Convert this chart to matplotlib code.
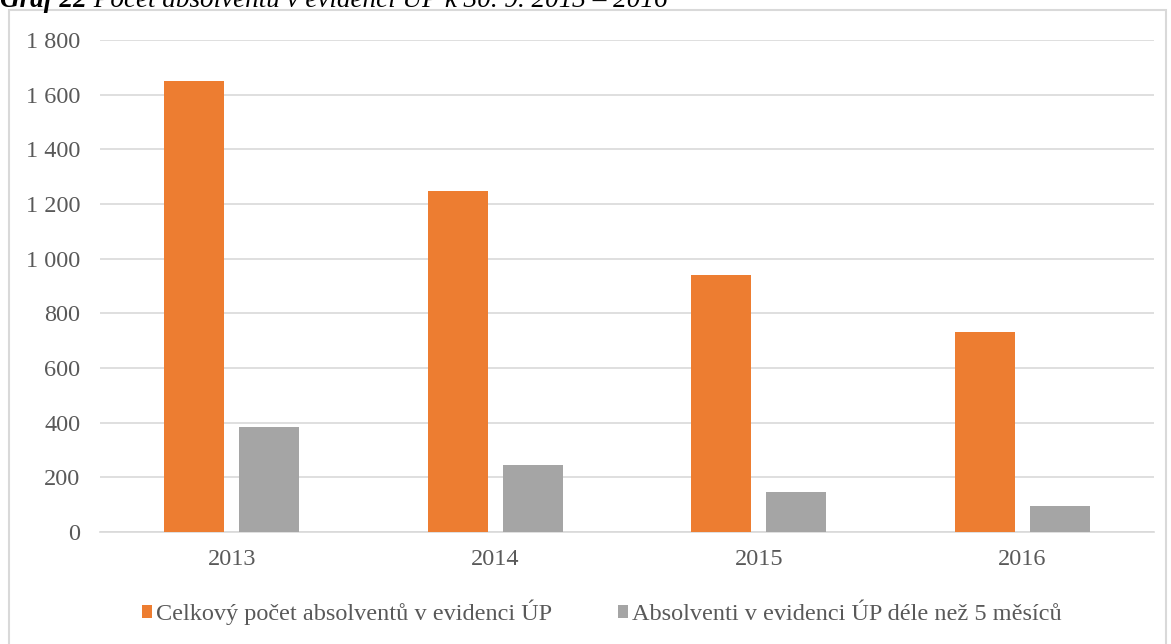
import numpy as np
import matplotlib.pyplot as plt
from matplotlib.patches import Rectangle

plt.rcParams['font.family'] = ['Liberation Serif', 'DejaVu Serif']

years = ['2013', '2014', '2015', '2016']
total = [1650, 1248, 940, 732]
over5 = [384, 245, 146, 95]
labels = ['Celkový počet absolventů v evidenci ÚP',
          'Absolventi v evidenci ÚP déle než 5 měsíců']
title_a = 'Graf 22'
title_b = ' Počet absolventů v evidenci ÚP k 30. 9. 2013 – 2016'

fs = 17.5
txt = '#595959'

fig = plt.figure(figsize=(11.71, 6.44), dpi=100)
fig.patches.append(Rectangle((9 / 1171, -10 / 644), 1157 / 1171, 644 / 644,
                             transform=fig.transFigure, fill=False,
                             edgecolor='#d9d9d9', lw=1.5))

# title, cut at the top edge as in the source
t1 = fig.text(0.0, (644 - 7) / 644, title_a, style='italic', weight='bold',
              fontsize=19.5, va='baseline', ha='left')
r = fig.canvas.get_renderer()
bb = t1.get_window_extent(r)
fig.text(bb.x1 / fig.bbox.width, (644 - 7) / 644, title_b, style='italic',
         fontsize=19.5, va='baseline', ha='left')

ax = fig.add_axes([100 / 1171, (644 - 532) / 644, 1054 / 1171, 492 / 644])
x = np.arange(len(years))
w = 0.228
ax.bar(x - 0.142, total, w, color='#ed7d31', label=labels[0], zorder=3)
ax.bar(x + 0.142, over5, w, color='#a5a5a5', label=labels[1], zorder=3)

ax.set_xlim(-0.5, 3.5)
ax.set_ylim(0, 1800)
ax.set_xticks(x)
ax.set_xticklabels(years)
yt = np.arange(0, 1801, 200)
ax.set_yticks(yt)
ax.set_yticklabels([f'{v:,}'.replace(',', ' ') for v in yt])
ax.tick_params(length=0, labelsize=fs, colors=txt)
ax.tick_params(axis='x', pad=12)
ax.tick_params(axis='y', pad=14)
ax.grid(axis='y', color='#d9d9d9', lw=1.2, zorder=0)
for s in ['top', 'right', 'left']:
    ax.spines[s].set_visible(False)
ax.spines['bottom'].set_color('#d9d9d9')
ax.spines['bottom'].set_linewidth(1.2)

ax.legend(loc='center', bbox_to_anchor=(0.476, -0.163), ncol=2,
          frameon=False, fontsize=fs, handlelength=0.42, handleheight=0.42,
          handletextpad=0.15, columnspacing=2.7, labelcolor=txt)

fig.savefig('out.png', dpi=100)
